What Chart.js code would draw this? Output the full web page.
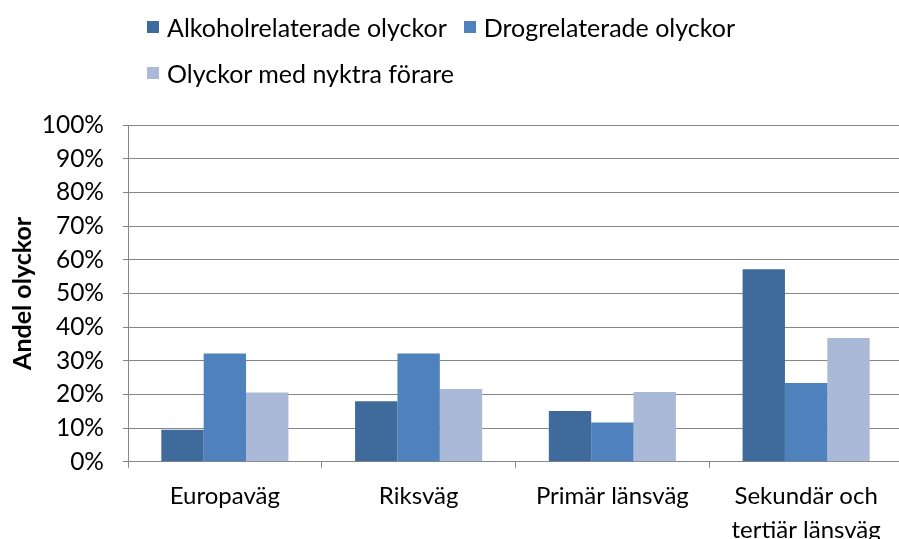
<!DOCTYPE html>
<html><head><meta charset="utf-8">
<script src="https://cdn.jsdelivr.net/npm/chart.js@4/dist/chart.umd.min.js"></script>
<style>
html,body{margin:0;padding:0;background:#fff;overflow:hidden;}
#wrap{position:relative;width:905px;height:558px;}
#legend{position:absolute;left:147px;top:12px;width:620px;display:flex;flex-wrap:wrap;column-gap:17px;row-gap:16px;font-family:Lato,"Liberation Sans",sans-serif;font-size:25px;color:#000;}
.item{display:flex;align-items:center;height:30px;}
.box{width:12px;height:12px;margin-right:8px;}
</style></head>
<body>
<div id="wrap"><canvas id="c" width="905" height="558"></canvas><div id="legend"></div></div>
<script>
const categories = ["Europaväg", "Riksväg", "Primär länsväg", ["Sekundär och", "tertiär länsväg"]];
const seriesNames = ["Alkoholrelaterade olyckor", "Drogrelaterade olyckor", "Olyckor med nyktra förare"];
const alkohol = [9.5, 18.0, 15.1, 57.2];
const drog = [32.2, 32.2, 11.7, 23.4];
const nyktra = [20.6, 21.6, 20.7, 36.8];
const colors = ["#3F6A9C", "#4F81BD", "#AAB9D7"];
const yTitle = "Andel olyckor";

const FONT = "Lato, 'Liberation Sans', sans-serif";
const series = [alkohol, drog, nyktra];
const chart = new Chart(document.getElementById('c'), {
  type: 'bar',
  data: {
    labels: categories,
    datasets: series.map((d, i) => ({
      label: seriesNames[i], data: d, backgroundColor: colors[i],
      borderWidth: 0, categoryPercentage: 0.656, barPercentage: 1.0
    }))
  },
  options: {
    responsive: false, animation: false,
    layout: {padding: {top: 125, right: 2, bottom: 0, left: 0}},
    plugins: {legend: {display: false}, tooltip: {enabled: false}},
    scales: {
      x: {
        grid: {display: true, drawOnChartArea: false, offset: true, color: '#868686', tickLength: 6},
        border: {color: '#868686'},
        ticks: {color: '#000', font: {family: FONT, size: 24, lineHeight: 1.42}, padding: 11, maxRotation: 0, autoSkip: false}
      },
      y: {
        min: 0, max: 100,
        afterFit: s => { s.width = 128; },
        grid: {color: '#868686', tickLength: 5},
        border: {color: '#868686'},
        ticks: {stepSize: 10, color: '#000', padding: 19, font: {family: FONT, size: 24.5}, callback: v => v + '%'},
        title: {display: true, text: yTitle, color: '#000', font: {family: FONT, size: 25, weight: 'bold'}, padding: {top: 8, bottom: 0}}
      }
    }
  }
});
const lg = document.getElementById('legend');
seriesNames.forEach((n, i) => {
  const it = document.createElement('div'); it.className = 'item';
  const b = document.createElement('span'); b.className = 'box'; b.style.background = colors[i];
  const t = document.createElement('span'); t.textContent = n;
  it.appendChild(b); it.appendChild(t); lg.appendChild(it);
});
</script>
</body></html>
